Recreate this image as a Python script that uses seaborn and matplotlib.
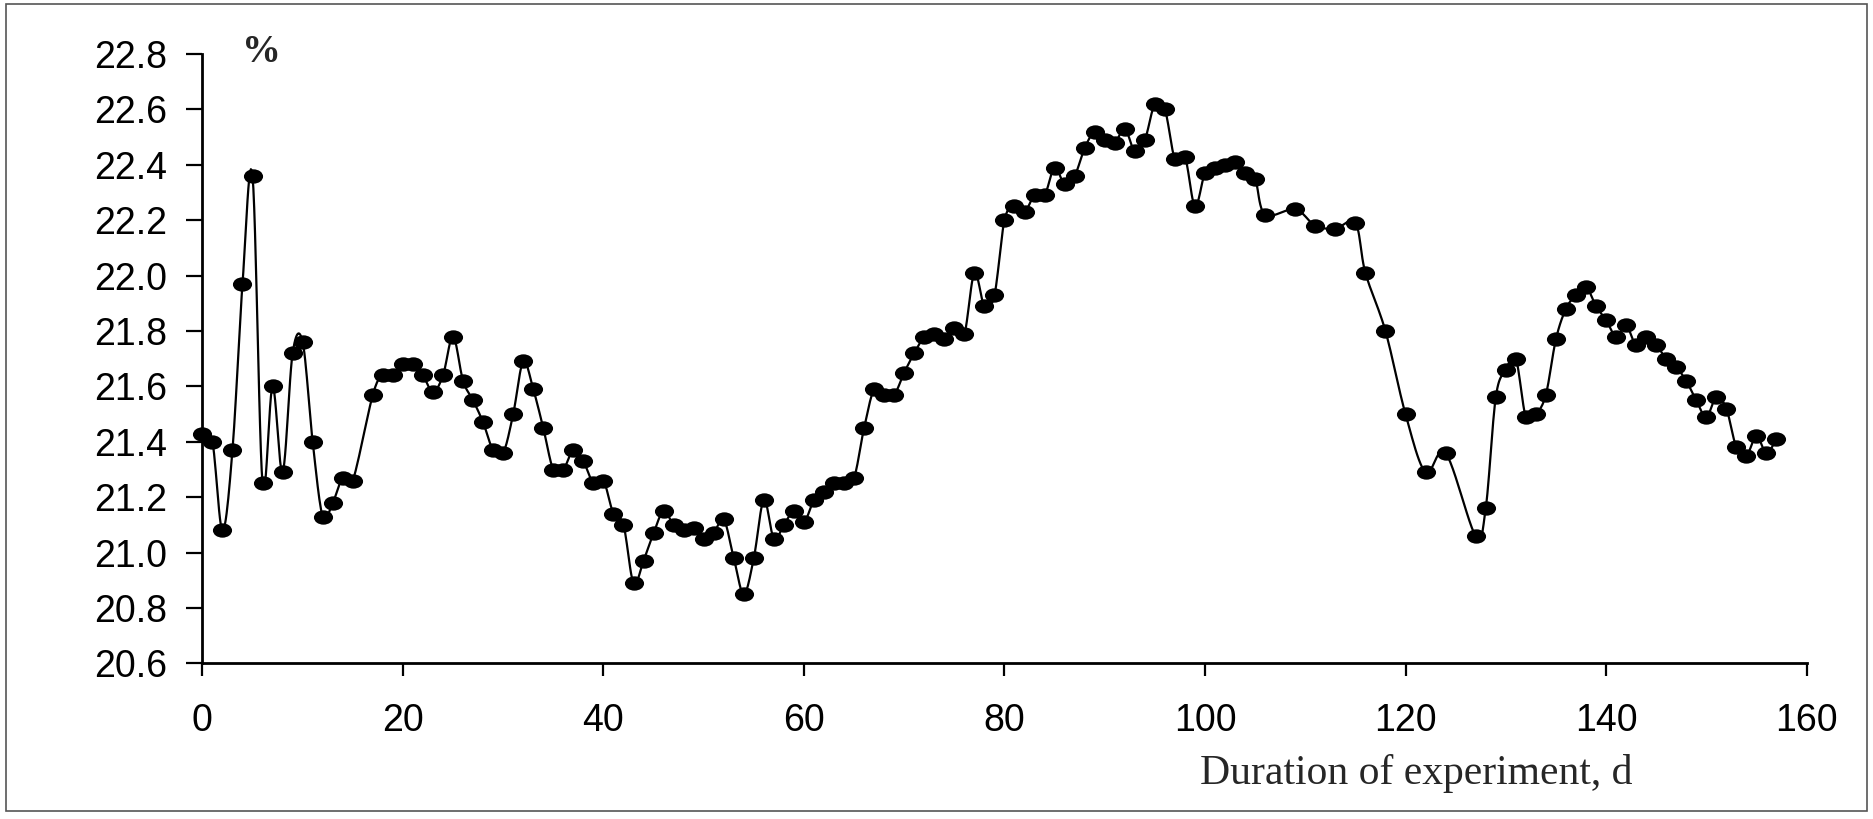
import numpy as np
import pandas as pd
import matplotlib
matplotlib.use("Agg")
import matplotlib.pyplot as plt
from matplotlib.path import Path
from matplotlib.patches import Rectangle
import seaborn as sns

# days of the experiment and measured values, %
days = [0, 1, 2, 3, 4, 5, 6, 7, 8, 9, 10, 11, 12, 13, 14, 15,
        17, 18, 19, 20, 21, 22, 23, 24, 25, 26, 27, 28, 29, 30,
        31, 32, 33, 34, 35, 36, 37, 38, 39, 40, 41, 42, 43, 44, 45,
        46, 47, 48, 49, 50, 51, 52, 53, 54, 55, 56, 57, 58, 59, 60,
        61, 62, 63, 64, 65, 66, 67, 68, 69, 70, 71, 72, 73, 74, 75,
        76, 77, 78, 79, 80, 81, 82, 83, 84, 85, 86, 87, 88, 89, 90,
        91, 92, 93, 94, 95, 96, 97, 98, 99, 100, 101, 102, 103, 104, 105,
        106, 109, 111, 113, 115, 116, 118, 120, 122, 124, 127, 128, 129, 130,
        131, 132, 133, 134, 135, 136, 137, 138, 139, 140, 141, 142, 143, 144,
        145, 146, 147, 148, 149, 150, 151, 152, 153, 154, 155, 156, 157]
values = [21.43, 21.40, 21.08, 21.37, 21.97, 22.36, 21.25, 21.60, 21.29, 21.72,
          21.76, 21.40, 21.13, 21.18, 21.27, 21.26,
          21.57, 21.64, 21.64, 21.68, 21.68, 21.64, 21.58, 21.64, 21.78, 21.62,
          21.55, 21.47, 21.37, 21.36,
          21.50, 21.69, 21.59, 21.45, 21.30, 21.30, 21.37, 21.33, 21.25, 21.26,
          21.14, 21.10, 20.89, 20.97, 21.07,
          21.15, 21.10, 21.08, 21.09, 21.05, 21.07, 21.12, 20.98, 20.85, 20.98,
          21.19, 21.05, 21.10, 21.15, 21.11,
          21.19, 21.22, 21.25, 21.25, 21.27, 21.45, 21.59, 21.57, 21.57, 21.65,
          21.72, 21.78, 21.79, 21.77, 21.81,
          21.79, 22.01, 21.89, 21.93, 22.20, 22.25, 22.23, 22.29, 22.29, 22.39,
          22.33, 22.36, 22.46, 22.52, 22.49,
          22.48, 22.53, 22.45, 22.49, 22.62, 22.60, 22.42, 22.43, 22.25, 22.37,
          22.39, 22.40, 22.41, 22.37, 22.35,
          22.22, 22.24, 22.18, 22.17, 22.19, 22.01, 21.80, 21.50, 21.29, 21.36,
          21.06, 21.16, 21.56, 21.66,
          21.70, 21.49, 21.50, 21.57, 21.77, 21.88, 21.93, 21.96, 21.89, 21.84,
          21.78, 21.82, 21.75, 21.78,
          21.75, 21.70, 21.67, 21.62, 21.55, 21.49, 21.56, 21.52, 21.38, 21.35,
          21.42, 21.36, 21.41]

x_ticks = [0, 20, 40, 60, 80, 100, 120, 140, 160]
y_ticks = [20.6, 20.8, 21.0, 21.2, 21.4, 21.6, 21.8, 22.0, 22.2, 22.4, 22.6, 22.8]


def smooth_line(x, y, steps=12):
    # Excel-style smoothed line: cubic Bezier through the points (Catmull-Rom)
    x = np.asarray(x, float)
    y = np.asarray(y, float)
    px = np.concatenate([[x[0]], x, [x[-1]]])
    py = np.concatenate([[y[0]], y, [y[-1]]])
    t = np.linspace(0, 1, steps, endpoint=False)[:, None]
    xs, ys = [], []
    for i in range(1, len(px) - 2):
        p0 = np.array([px[i], py[i]])
        p3 = np.array([px[i + 1], py[i + 1]])
        c1 = p0 + (p3 - np.array([px[i - 1], py[i - 1]])) / 6
        c2 = p3 - (np.array([px[i + 2], py[i + 2]]) - p0) / 6
        b = ((1 - t) ** 3) * p0 + 3 * ((1 - t) ** 2) * t * c1 \
            + 3 * (1 - t) * t ** 2 * c2 + t ** 3 * p3
        xs.append(b[:, 0])
        ys.append(b[:, 1])
    xs.append([x[-1]])
    ys.append([y[-1]])
    return np.concatenate(xs), np.concatenate(ys)


df = pd.DataFrame({"day": days, "value": values})
sx, sy = smooth_line(days, values)

sns.set_style("white")
plt.rcParams["font.family"] = ["Liberation Sans", "DejaVu Sans"]

fig = plt.figure(figsize=(18.74, 8.19), dpi=100)
ax = fig.add_axes([0.108, 0.19, 0.856, 0.744])

# slightly flattened dot, like the original
circ = Path.unit_circle()
dot = Path(circ.vertices * np.array([1.0, 0.75]), circ.codes)

ax.plot(sx, sy, color="black", linewidth=1.6, zorder=2, clip_on=False)
sns.scatterplot(data=df, x="day", y="value", ax=ax, color="black",
                marker=dot, s=190, edgecolor="black", linewidth=0,
                clip_on=False, zorder=3)

ax.set_xlim(0, 160)
ax.set_ylim(20.6, 22.8)
ax.set_xticks(x_ticks)
ax.set_yticks(y_ticks)
ax.set_yticklabels([f"{v:.1f}" for v in y_ticks])
ax.tick_params(axis="both", labelsize=27, direction="out", width=1.6,
               color="black", labelcolor="black")
ax.tick_params(axis="y", length=11.5, pad=14, left=True)
ax.tick_params(axis="x", length=9.5, pad=19, bottom=True)
ax.set_xlabel("")
ax.set_ylabel("")
for side in ["top", "right"]:
    ax.spines[side].set_visible(False)
for side in ["left", "bottom"]:
    ax.spines[side].set_color("black")
    ax.spines[side].set_linewidth(2)

ax.text(0.037, 1.003, "%", transform=ax.transAxes, fontsize=28, fontweight="bold",
        family="Liberation Serif", ha="center", va="center")
fig.text(0.756, 0.055, "Duration of experiment, d", fontsize=30,
         family="Liberation Serif", ha="center", va="center")

# outer frame
fig.add_artist(Rectangle((0.003, 0.01), 0.993, 0.985, transform=fig.transFigure,
                         fill=False, edgecolor="#555555", linewidth=1.2))

fig.savefig("out.png", dpi=100)
